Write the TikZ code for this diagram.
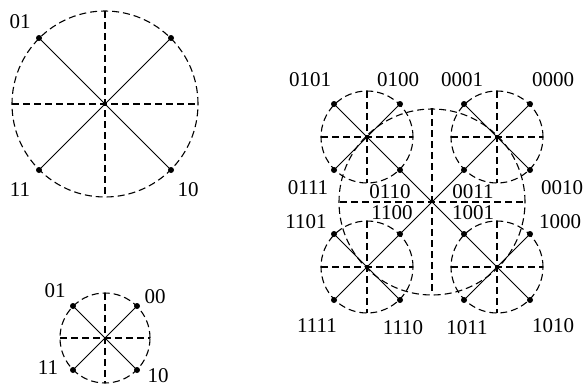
\documentclass[tikz,border=0pt]{standalone}
\usepackage{fontspec}
\setmainfont{Liberation Serif}
\newcommand\lbfont{\fontsize{21}{24}\selectfont}
\tikzset{
  dsh/.style={line width=1.1pt, dash pattern=on 7pt off 4pt},
  sol/.style={line width=1pt},
  dot/.style={circle, fill, inner sep=0pt, minimum size=6pt},
  lbl/.style={font=\lbfont, inner sep=0pt}
}
\begin{document}
\begin{tikzpicture}[x=1pt,y=-1pt]
\useasboundingbox (0,0) rectangle (585,386);
% ---------- top-left large circle ----------
\coordinate (A) at (105,104);
\draw[dsh] (A) circle [radius=93pt];
\coordinate (AL) at (12,104); \coordinate (AR) at (198,104);
\coordinate (AT) at (105,11); \coordinate (AB) at (105,197);
\draw[dsh] (AL) -- (AR);
\draw[dsh] (AT) -- (AB);
\node[dot] (a01) at (39,38) {};
\node[dot] (a00) at (171,38) {};
\node[dot] (a11) at (39,170) {};
\node[dot] (a10) at (171,170) {};
\draw[sol] (a01.center) -- (a10.center);
\draw[sol] (a00.center) -- (a11.center);
\node[lbl] (la01) at (20,22) {01};
\node[lbl] (la11) at (20,190) {11};
\node[lbl] (la10) at (188,190) {10};
% ---------- bottom-left small circle ----------
\coordinate (B) at (105,338);
\draw[dsh] (B) circle [radius=45pt];
\coordinate (BL) at (60,338); \coordinate (BR) at (150,338);
\coordinate (BT) at (105,293); \coordinate (BB) at (105,383);
\draw[dsh] (BL) -- (BR);
\draw[dsh] (BT) -- (BB);
\node[dot] (b01) at (73,306) {};
\node[dot] (b00) at (137,306) {};
\node[dot] (b11) at (73,370) {};
\node[dot] (b10) at (137,370) {};
\draw[sol] (b01.center) -- (b10.center);
\draw[sol] (b00.center) -- (b11.center);
\node[lbl] (lb01) at (55,291) {01};
\node[lbl] (lb00) at (155,297) {00};
\node[lbl] (lb11) at (48,368) {11};
\node[lbl] (lb10) at (158,376) {10};
% ---------- right hierarchical constellation ----------
\coordinate (C) at (432,202);
\draw[dsh] (C) circle [radius=93pt];
\coordinate (CL) at (340,202); \coordinate (CR) at (525,202);
\coordinate (CT) at (432,108); \coordinate (CB) at (432,294);
\draw[dsh] (CL) -- (CR);
\draw[dsh] (CT) -- (CB);
\foreach \n/\x/\y in {S1/367/137, S2/497/137, S3/367/267, S4/497/267}{
  \coordinate (\n) at (\x,\y);
  \draw[dsh] (\n) circle [radius=46pt];
  \draw[dsh] ([xshift=-46pt]\n) -- ([xshift=46pt]\n);
  \draw[dsh] ([yshift=46pt]\n) -- ([yshift=-46pt]\n);
}
% dots
\node[dot] (p0101) at (334,104) {};
\node[dot] (p0100) at (400,104) {};
\node[dot] (p0111) at (334,170) {};
\node[dot] (p0110) at (400,170) {};
\node[dot] (p0001) at (464,104) {};
\node[dot] (p0000) at (530,104) {};
\node[dot] (p0011) at (464,170) {};
\node[dot] (p0010) at (530,170) {};
\node[dot] (p1101) at (334,234) {};
\node[dot] (p1100) at (400,234) {};
\node[dot] (p1111) at (334,300) {};
\node[dot] (p1110) at (400,300) {};
\node[dot] (p1001) at (464,234) {};
\node[dot] (p1000) at (530,234) {};
\node[dot] (p1011) at (464,300) {};
\node[dot] (p1010) at (530,300) {};
% solid lines
\draw[sol] (p0101.center) -- (p1010.center);
\draw[sol] (p0000.center) -- (p1111.center);
\draw[sol] (p0100.center) -- (p0111.center);
\draw[sol] (p0001.center) -- (p0010.center);
\draw[sol] (p1101.center) -- (p1110.center);
\draw[sol] (p1000.center) -- (p1011.center);
% labels
\node[lbl] (l0101) at (310,80) {0101};
\node[lbl] (l0100) at (398,80) {0100};
\node[lbl] (l0001) at (462,80) {0001};
\node[lbl] (l0000) at (553,80) {0000};
\node[lbl] (l0111) at (308,188) {0111};
\node[lbl] (l0110) at (390,192) {0110};
\node[lbl] (l0011) at (473,192) {0011};
\node[lbl] (l0010) at (562,188) {0010};
\node[lbl] (l1101) at (306,222) {1101};
\node[lbl] (l1100) at (392,213) {1100};
\node[lbl] (l1001) at (473,213) {1001};
\node[lbl] (l1000) at (560,222) {1000};
\node[lbl] (l1111) at (317,326) {1111};
\node[lbl] (l1110) at (403,328) {1110};
\node[lbl] (l1011) at (467,328) {1011};
\node[lbl] (l1010) at (553,326) {1010};
\end{tikzpicture}
\end{document}
